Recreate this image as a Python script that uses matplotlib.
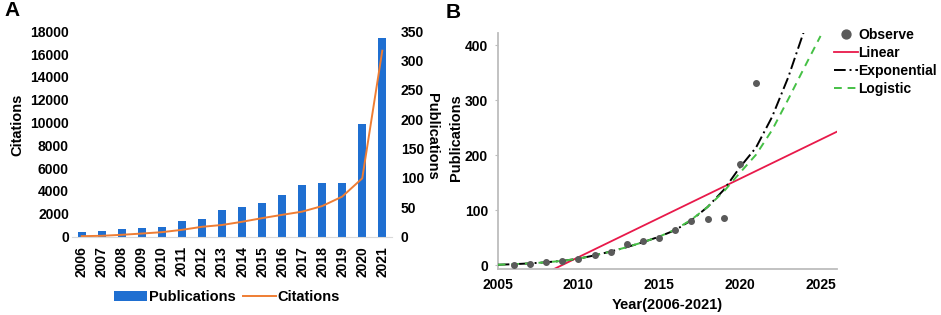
import numpy as np
import matplotlib
matplotlib.use('Agg')
import matplotlib.pyplot as plt

plt.rcParams['font.family'] = ['Liberation Sans', 'DejaVu Sans']
plt.rcParams['font.weight'] = 'bold'

# panel A data
years = [2006, 2007, 2008, 2009, 2010, 2011, 2012, 2013,
         2014, 2015, 2016, 2017, 2018, 2019, 2020, 2021]
publications = [7, 10, 13, 14, 17, 26, 30, 46, 51, 57, 70, 87, 92, 92, 192, 338]
citations = [30, 60, 150, 260, 380, 585, 850, 1010, 1290, 1610, 1900, 2180,
             2670, 3500, 5100, 16300]

# panel B data
obs_years = years
observed = [1, 3, 5.5, 7, 11.5, 18, 24, 39, 44, 50, 64, 81, 85, 86, 184, 331]
exp_years = list(range(2005, 2025))
exp_fit = [1, 2, 3.5, 5.5, 8, 12, 18, 25, 33, 42, 52, 64, 82, 106, 137, 178,
           214, 270, 342, 428]
log_years = list(range(2005, 2026))
log_fit = [1, 2, 3.5, 5.5, 8, 12, 18, 25, 33, 42, 52, 65, 83, 106, 134, 168,
           201, 246, 302, 360, 417]

W, H = 941, 315
fig = plt.figure(figsize=(W / 100, H / 100), dpi=100)

def box(l, t, r, b):
    return [l / W, 1 - b / H, (r - l) / W, (b - t) / H]

blue = '#1f6fd1'
orange = '#ef7d33'

# ---------- A ----------
ax_c = fig.add_axes(box(71.7, 31.3, 392.3, 236.5))
ax_p = ax_c.twinx()
x = np.arange(len(years))
bars = ax_p.bar(x, publications, width=0.42, color=blue, label='Publications')
line, = ax_c.plot(x, citations, color=orange, lw=1.4, label='Citations')
ax_c.set_zorder(ax_p.get_zorder() + 1)
ax_c.patch.set_visible(False)

ax_c.set_xlim(-0.5, len(years) - 0.5)
ax_c.set_ylim(0, 18000)
ax_p.set_ylim(0, 350)
ax_c.set_yticks(range(0, 18001, 2000))
ax_p.set_yticks(range(0, 351, 50))
ax_c.set_xticks(x)
ax_c.set_xticklabels([str(y) for y in years], rotation=90)
for a in (ax_c, ax_p):
    for s in a.spines.values():
        s.set_visible(False)
    a.tick_params(length=0, labelsize=10)
ax_c.spines['bottom'].set_visible(True)
ax_c.spines['bottom'].set_color('#d9d9d9')
ax_c.tick_params(axis='y', pad=2)
ax_c.tick_params(axis='x', pad=7)
ax_p.tick_params(axis='y', pad=6)

fig.text(17 / W, 1 - 125 / H, 'Citations', rotation=90, ha='center', va='center',
         fontsize=10.5, fontweight='bold')
fig.text(432 / W, 1 - 136 / H, 'Publications', rotation=270, ha='center', va='center',
         fontsize=10.5, fontweight='bold')
fig.legend([bars, line], ['Publications', 'Citations'], loc='center',
           bbox_to_anchor=(227 / W, 1 - 297 / H), ncol=2, frameon=False,
           fontsize=10.5, handlelength=2.3, handletextpad=0.1, columnspacing=0.5,
           borderpad=0)
fig.text(4 / W, 1 - 11 / H, 'A', fontsize=15, fontweight='bold', va='center')

# ---------- B ----------
ax = fig.add_axes(box(497.7, 33, 836.7, 268.7))
coef = np.polyfit(obs_years, observed, 1)
lx = np.array([2005, 2026])
ax.plot(lx, np.polyval(coef, lx), color='#e8194a', lw=1.3, label='Linear', zorder=2)
ax.plot(exp_years, exp_fit, color='black', lw=1.4, ls=(0, (6, 2, 1, 2)),
        label='Exponential', zorder=3)
ax.plot(log_years, log_fit, color='#45c045', lw=1.4, ls=(0, (4, 3)),
        label='Logistic', zorder=4)
ax.plot(obs_years, observed, 'o', color='#5a5a5a', ms=4, label='Observe', zorder=5)

ax.set_xlim(2005, 2026)
ax.set_ylim(-6.2, 422.4)
ax.set_xticks([2005, 2010, 2015, 2020, 2025])
ax.set_yticks([0, 100, 200, 300, 400])
for s in ('top', 'right'):
    ax.spines[s].set_visible(False)
for s in ('left', 'bottom'):
    ax.spines[s].set_color('#bdbdbd')
    ax.spines[s].set_linewidth(1.3)
ax.tick_params(axis='y', length=2, color='#bdbdbd', pad=5, labelsize=10)
ax.tick_params(axis='x', length=0, pad=7, labelsize=10)
ax.set_xlabel('Year(2006-2021)', fontsize=10.5, fontweight='bold', labelpad=4)
fig.text(456 / W, 1 - 138 / H, 'Publications', rotation=90, ha='center', va='center',
         fontsize=10.5, fontweight='bold')

h, l = ax.get_legend_handles_labels()
order = [3, 0, 1, 2]
fig.legend([h[i] for i in order], [l[i] for i in order], loc='upper left',
           bbox_to_anchor=(834 / W, 1 - 28 / H), frameon=False, fontsize=10,
           handlelength=1.7, handletextpad=0.05, labelspacing=0.28, borderpad=0,
           borderaxespad=0, markerscale=1.6)
fig.text(446 / W, 1 - 13 / H, 'B', fontsize=15, fontweight='bold', va='center')

fig.savefig('out.png', dpi=100)
